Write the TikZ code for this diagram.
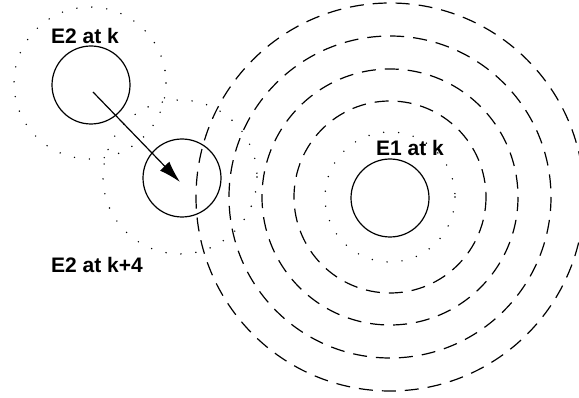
\documentclass[tikz,border=0pt]{standalone}
\usepackage{fontspec}
\setmainfont{Liberation Sans}
\usetikzlibrary{arrows.meta}
\begin{document}
\begin{tikzpicture}[x=1pt,y=-1pt,
  body/.style={circle,draw,line width=1.2pt,inner sep=0pt,minimum size=78pt},
  zone/.style={draw,line width=1.6pt,line cap=round,dash pattern=on 0pt off 15pt},
  ring/.style={draw,line width=1.2pt,dash pattern=on 14pt off 9pt},
  lab/.style={font=\fontsize{21}{25}\selectfont\bfseries,inner sep=0pt},
  move/.style={line width=1.2pt,-{Latex[length=22pt,width=13pt]}}]
\useasboundingbox (0,0) rectangle (579,398);
% E1 at k
\node[body] (e1) at (390,198) {};
\draw[zone] (390,197) circle[radius=65];
\foreach \r in {96,128,161,194}{
  \draw[ring] (390,197) circle[radius=\r];
}
% E2 at k
\node[body] (e2a) at (91,85) {};
\draw[zone] (90,83) circle[radius=76];
% E2 at k+4
\node[body] (e2b) at (182,178) {};
\draw[zone] (180,177) circle[radius=77];
% labels
\node[lab] (l1) at (85,36) {E2 at k};
\node[lab] (l2) at (97,265) {E2 at k+4};
\node[lab] (l3) at (410,148) {E1 at k};
% movement
\coordinate (s) at (93,92);
\coordinate (t) at (180,182);
\draw[move] (s) -- (t);
\end{tikzpicture}
\end{document}
